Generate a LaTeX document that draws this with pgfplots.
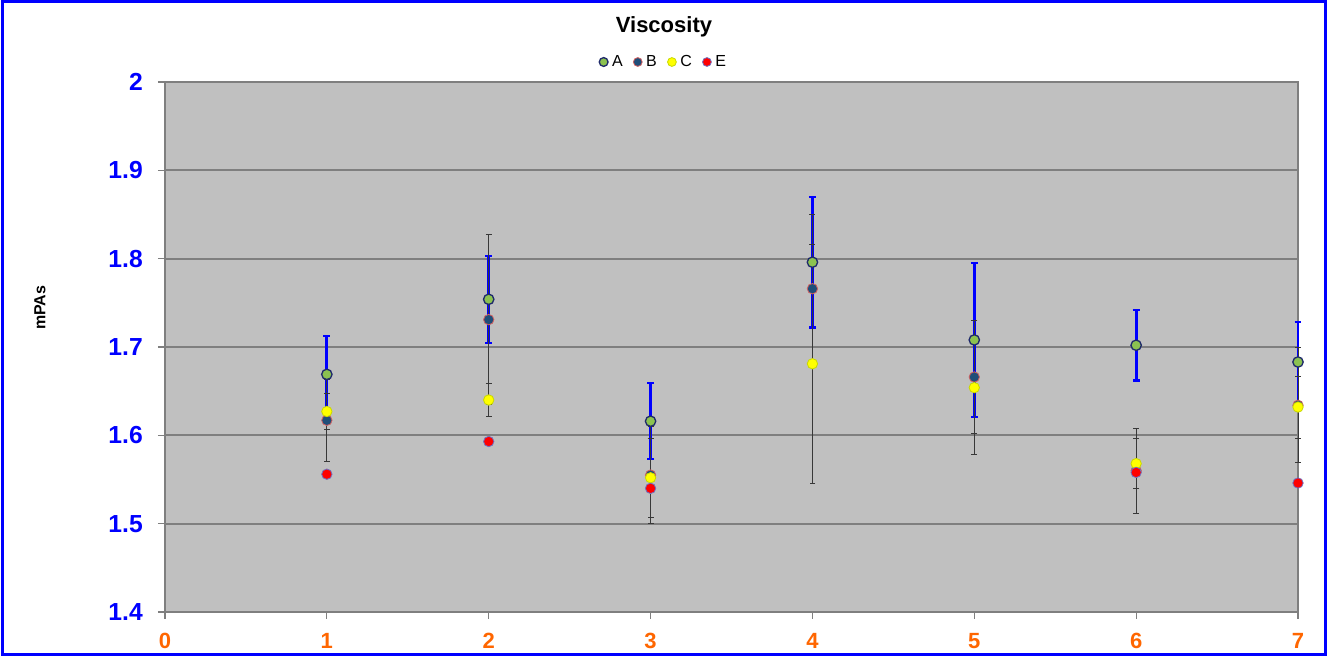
\documentclass[border=0pt]{standalone}
\usepackage{fontspec}
\setmainfont{Liberation Sans}
\usepackage{pgfplots}
\usepackage{pgfplotstable}
\pgfplotsset{compat=1.18}
\definecolor{Afill}{HTML}{8CC250}
\definecolor{Aedge}{HTML}{1F2A6B}
\definecolor{Bfill}{HTML}{1F4E79}
\definecolor{Bedge}{HTML}{D06060}
\definecolor{Cfill}{HTML}{FFFF00}
\definecolor{Cedge}{HTML}{C8D800}
\definecolor{Efill}{HTML}{FF0000}
\definecolor{Eedge}{HTML}{7070C0}
\definecolor{Xorange}{HTML}{FF6600}
\definecolor{plotbg}{HTML}{C0C0C0}
\definecolor{gridc}{HTML}{7F7F7F}
\definecolor{errc}{HTML}{383838}

\pgfplotstableread{
x y e
1 1.669 0.043
2 1.754 0.049
3 1.616 0.043
4 1.796 0.074
5 1.708 0.087
6 1.702 0.040
7 1.683 0.045
}\tabA
\pgfplotstableread{
x y e
1 1.617 0.046
2 1.731 0.096
3 1.555 0.055
4 1.766 0.084
5 1.666 0.064
6 1.560 0.048
7 1.634 0.065
}\tabB
\pgfplotstableread{
x y e
1 1.627 0.020
2 1.640 0.019
3 1.552 0.045
4 1.681 0.135
5 1.654 0.076
6 1.568 0.028
7 1.632 0.035
}\tabC
\pgfplotstableread{
x y
1 1.556
2 1.593
3 1.540
6 1.558
7 1.546
}\tabE

\begin{document}
\begin{tikzpicture}
\path[use as bounding box] (-123.75pt,-33pt) rectangle (872.25pt,459pt);
\draw[blue, line width=2.4pt] (-121.8pt,-31.8pt) rectangle (870.3pt,457.8pt);
\begin{axis}[
  at={(0pt,0pt)}, anchor=south west,
  scale only axis, width=849.75pt, height=397.5pt,
  xmin=0, xmax=7, ymin=1.4, ymax=2,
  clip=false,
  axis background/.style={fill=plotbg},
  axis line style={draw=gridc, line width=0.9pt},
  xtick={0,1,2,3,4,5,6,7},
  xticklabels={0,1,2,3,4,5,6,7},
  ytick={1.4,1.5,1.6,1.7,1.8,1.9,2},
  yticklabels={1.4,1.5,1.6,1.7,1.8,1.9,2},
  xtick pos=bottom, ytick pos=left,
  tick align=outside,
  major tick length=5.25pt,
  tick style={draw=gridc, line width=0.8pt},
  ymajorgrids,
  grid style={draw=gridc, line width=1.3pt},
  yticklabel style={font=\fontsize{18.5}{18}\selectfont\bfseries, text=blue, anchor=east, inner sep=0pt, xshift=-11.25pt},
  xticklabel style={font=\fontsize{16.5}{16}\selectfont\bfseries, text=Xorange, anchor=north, inner sep=0pt, yshift=-10.5pt},
  title={Viscosity},
  title style={at={(axis description cs:0.4404,1)}, anchor=center, yshift=35.25pt, font=\fontsize{16.5}{16}\selectfont\bfseries},
  ylabel={mPAs},
  every axis y label/.style={at={(axis description cs:-0.1103,0.574)}, rotate=90, anchor=center, font=\fontsize{12}{12}\selectfont\bfseries},
  legend style={at={(axis description cs:0.4404,1)}, anchor=center, yshift=15pt, draw=none, fill=none,
    font=\fontsize{12}{12}\selectfont, inner sep=0pt,
    /tikz/every even column/.append style={column sep=6pt},
    /tikz/every odd column/.append style={column sep=1pt}},
  legend columns=-1,
  legend image code/.code={\draw[#1, mark size=3.3pt] plot coordinates {(0pt,0pt)};},
]
% error bars first
\addplot[forget plot, only marks, mark=none,
  error bars/.cd, y dir=both, y explicit,
  error bar style={draw=blue, line width=2.2pt},
  error mark options={rotate=90, draw=blue, mark size=2.6pt, line width=1.6pt}]
  table[x=x, y=y, y error=e]{\tabA};
\addplot[forget plot, only marks, mark=none,
  error bars/.cd, y dir=both, y explicit,
  error bar style={draw=errc, line width=0.55pt},
  error mark options={rotate=90, draw=errc, mark size=2.2pt, line width=0.6pt}]
  table[x=x, y=y, y error=e]{\tabB};
\addplot[forget plot, only marks, mark=none,
  error bars/.cd, y dir=both, y explicit,
  error bar style={draw=errc, line width=0.55pt},
  error mark options={rotate=90, draw=errc, mark size=2.2pt, line width=0.6pt}]
  table[x=x, y=y, y error=e]{\tabC};
% markers
\addplot[only marks, mark=*, mark size=3.9pt, mark options={fill=Afill, draw=Aedge, line width=1pt}] table[x=x, y=y]{\tabA};
\addlegendentry{A}
\addplot[only marks, mark=*, mark size=3.9pt, mark options={fill=Bfill, draw=Bedge, line width=0.6pt}] table[x=x, y=y]{\tabB};
\addlegendentry{B}
\addplot[only marks, mark=*, mark size=3.9pt, mark options={fill=Cfill, draw=Cedge, line width=0.6pt}] table[x=x, y=y]{\tabC};
\addlegendentry{C}
\addplot[only marks, mark=*, mark size=3.9pt, mark options={fill=Efill, draw=Eedge, line width=0.6pt}] table[x=x, y=y]{\tabE};
\addlegendentry{E}
\end{axis}
\end{tikzpicture}
\end{document}
